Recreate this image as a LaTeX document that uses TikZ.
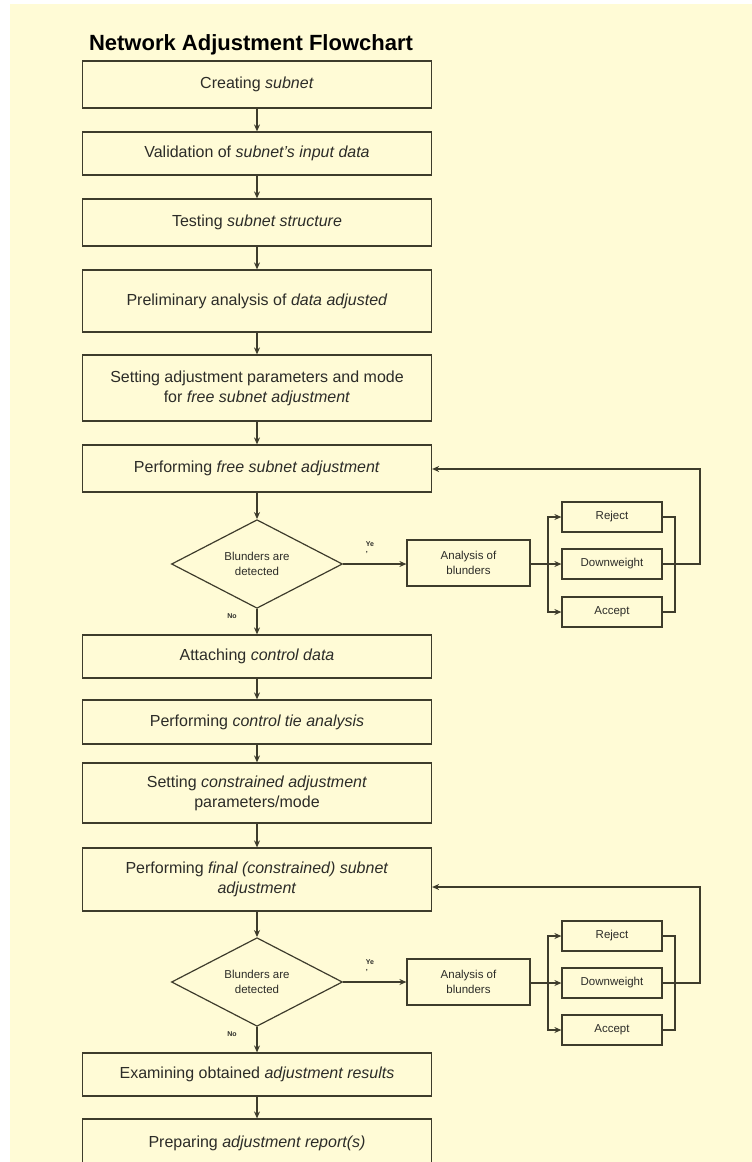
\documentclass[tikz,border=0pt]{standalone}
\usepackage{fontspec}
\setmainfont{Liberation Sans}
\usetikzlibrary{shapes.geometric,arrows.meta}
\definecolor{paper}{RGB}{255,251,214}
\definecolor{ink}{RGB}{62,60,44}
\definecolor{txt}{RGB}{44,44,40}

\begin{document}
\begin{tikzpicture}[x=1pt,y=-1pt,
        stepbox/.style={draw=ink,line width=1.2pt,text=txt,minimum width=349pt,
            align=center,inner sep=0pt,font=\fontsize{16}{20}\selectfont},
        sidebox/.style={draw=ink,line width=1.2pt,text=txt,align=center,
            inner sep=0pt,font=\fontsize{11.5}{15}\selectfont},
        test/.style={diamond,draw=ink,line width=1.2pt,text=txt,align=center,
            minimum width=171pt,minimum height=75pt,inner sep=0pt,
            font=\fontsize{11.5}{15}\selectfont},
        flow/.style={draw=ink,line width=1.2pt,-{Stealth[length=7pt,width=6pt]}},
        wire/.style={draw=ink,line width=1.2pt},
        tag/.style={text=txt,inner sep=0pt,font=\fontsize{7}{6}\selectfont\bfseries}]
\useasboundingbox (0,0) rectangle (752,1162);
\clip (0,0) rectangle (752,1162);
\fill[white] (0,0) rectangle (752,1162);
\fill[paper] (10,4) rectangle (752,1162);

\node[anchor=base,font=\fontsize{22}{24}\selectfont\bfseries] (title) at (251,50) {Network Adjustment Flowchart};

\node[stepbox,minimum height=47pt] (create) at (257,84.5) {Creating \textit{subnet}};
\node[stepbox,minimum height=43pt] (valid) at (257,153.5) {Validation of \textit{subnet's input data}};
\node[stepbox,minimum height=47pt] (struct) at (257,222.5) {Testing \textit{subnet structure}};
\node[stepbox,minimum height=62pt] (prelim) at (257,301) {Preliminary analysis of \textit{data adjusted}};
\node[stepbox,minimum height=66pt] (freeset) at (257,388) {Setting adjustment parameters and mode\\for \textit{free subnet adjustment}};
\node[stepbox,minimum height=47pt] (freerun) at (257,468.5) {Performing \textit{free subnet adjustment}};
\node[test] (blund1) at (257,564) {Blunders are\\detected};
\node[stepbox,minimum height=43pt] (attach) at (257,656.5) {Attaching \textit{control data}};
\node[stepbox,minimum height=44pt] (tie) at (257,722) {Performing \textit{control tie analysis}};
\node[stepbox,minimum height=60pt] (conset) at (257,793) {Setting \textit{constrained adjustment}\\parameters/mode};
\node[stepbox,minimum height=63pt] (finalrun) at (257,879.5) {Performing \textit{final (constrained) subnet}\\\textit{adjustment}};
\node[test] (blund2) at (257,982) {Blunders are\\detected};
\node[stepbox,minimum height=43pt] (examine) at (257,1074.5) {Examining obtained \textit{adjustment results}};
\node[stepbox,minimum height=48pt] (report) at (257,1143) {Preparing \textit{adjustment report(s)}};

\node[sidebox,minimum width=123pt,minimum height=46pt] (anal1) at (468.5,563) {Analysis of\\blunders};
\node[sidebox,minimum width=100pt,minimum height=30pt] (rej1) at (612,517) {Reject};
\node[sidebox,minimum width=100pt,minimum height=30pt] (down1) at (612,564) {Downweight};
\node[sidebox,minimum width=100pt,minimum height=30pt] (acc1) at (612,612) {Accept};

\node[sidebox,minimum width=123pt,minimum height=46pt] (anal2) at (468.5,982) {Analysis of\\blunders};
\node[sidebox,minimum width=100pt,minimum height=30pt] (rej2) at (612,936) {Reject};
\node[sidebox,minimum width=100pt,minimum height=30pt] (down2) at (612,983) {Downweight};
\node[sidebox,minimum width=100pt,minimum height=30pt] (acc2) at (612,1030) {Accept};

\node[tag,align=left] (yes1) at (370,548) {Ye\\,};
\node[tag] (no1) at (232,616) {No};
\node[tag,align=left] (yes2) at (370,966) {Ye\\,};
\node[tag] (no2) at (232,1034) {No};

\draw[flow] (create) -- (valid);
\draw[flow] (valid) -- (struct);
\draw[flow] (struct) -- (prelim);
\draw[flow] (prelim) -- (freeset);
\draw[flow] (freeset) -- (freerun);
\draw[flow] (freerun) -- (blund1);
\draw[flow] (blund1) -- (attach);
\draw[flow] (attach) -- (tie);
\draw[flow] (tie) -- (conset);
\draw[flow] (conset) -- (finalrun);
\draw[flow] (finalrun) -- (blund2);
\draw[flow] (blund2) -- (examine);
\draw[flow] (examine) -- (report);

\coordinate (fork1) at (548,564);
\coordinate (join1) at (675,564);
\coordinate (loop1) at (700,469);
\draw[flow] (blund1.east) -- (anal1.west |- blund1.east);
\draw[wire] (anal1.east |- fork1) -- (fork1);
\draw[flow] (fork1) |- (rej1.west);
\draw[flow] (fork1) -- (down1.west);
\draw[flow] (fork1) |- (acc1.west);
\draw[wire] (rej1.east) -| (join1);
\draw[wire] (acc1.east) -| (join1);
\draw[flow] (down1.east) -| (loop1) -- (loop1 -| freerun.east);

\coordinate (fork2) at (548,983);
\coordinate (join2) at (675,983);
\coordinate (loop2) at (700,887);
\draw[flow] (blund2.east) -- (anal2.west |- blund2.east);
\draw[wire] (anal2.east |- fork2) -- (fork2);
\draw[flow] (fork2) |- (rej2.west);
\draw[flow] (fork2) -- (down2.west);
\draw[flow] (fork2) |- (acc2.west);
\draw[wire] (rej2.east) -| (join2);
\draw[wire] (acc2.east) -| (join2);
\draw[flow] (down2.east) -| (loop2) -- (loop2 -| finalrun.east);

\end{tikzpicture}
\end{document}
